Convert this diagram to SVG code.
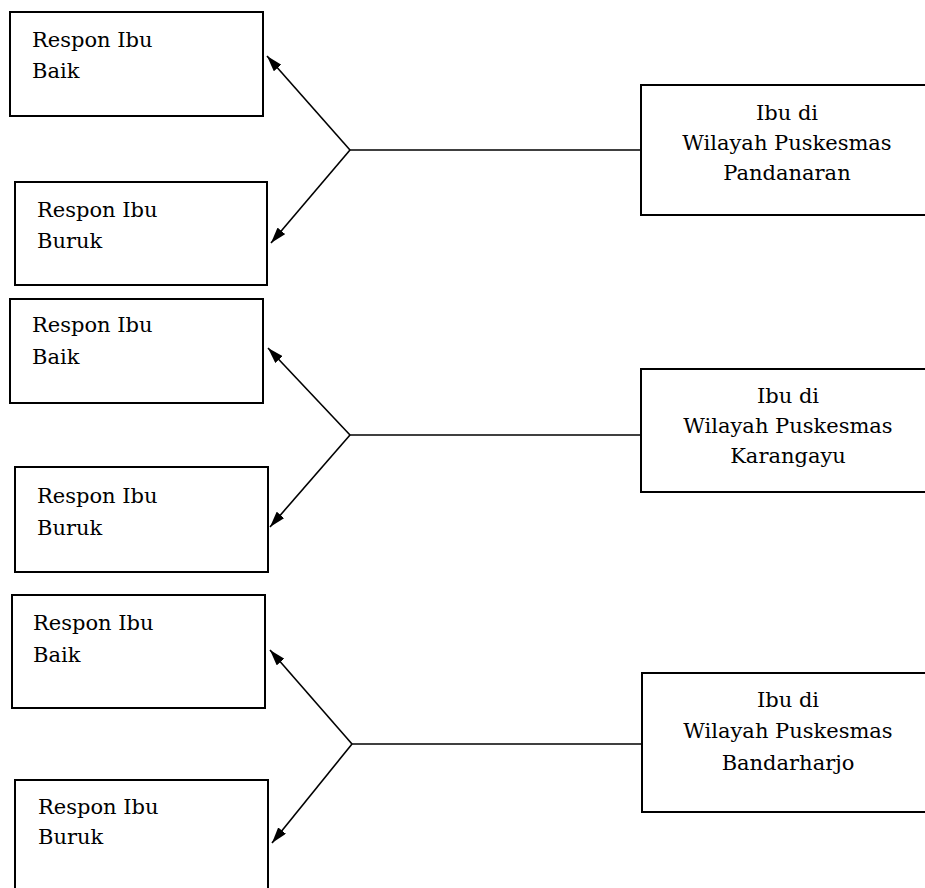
<svg xmlns="http://www.w3.org/2000/svg" width="925" height="888" viewBox="0 0 925 888">
<defs>
<marker id="ah" viewBox="0 0 16 10" refX="16" refY="5" markerWidth="16" markerHeight="10" markerUnits="userSpaceOnUse" orient="auto">
<path d="M0,0 L16,5 L0,10 z" fill="#000"/>
</marker>
</defs>
<style>
rect{fill:#fff;stroke:#000;stroke-width:2}
text{font-family:"DejaVu Serif","Liberation Serif",serif;font-size:21px;fill:#000}
.c{text-anchor:middle}
.ln{stroke:#000;stroke-width:1.6;fill:none}
</style>
<rect x="0" y="0" width="925" height="888" style="stroke:none"/>
<g id="L1"><rect x="10" y="12" width="253" height="104"/><text x="32" y="47">Respon Ibu</text><text x="32" y="78">Baik</text></g>
<g id="L2"><rect x="15" y="182" width="252" height="103"/><text x="37" y="217">Respon Ibu</text><text x="37" y="248">Buruk</text></g>
<g id="L3"><rect x="10" y="299" width="253" height="104"/><text x="32" y="332">Respon Ibu</text><text x="32" y="364">Baik</text></g>
<g id="L4"><rect x="15" y="467" width="253" height="105"/><text x="37" y="503">Respon Ibu</text><text x="37" y="535">Buruk</text></g>
<g id="L5"><rect x="12" y="595" width="253" height="113"/><text x="33" y="630">Respon Ibu</text><text x="33" y="662">Baik</text></g>
<g id="L6"><rect x="15" y="780" width="253" height="115"/><text x="38" y="814">Respon Ibu</text><text x="38" y="844">Buruk</text></g>
<g id="R1"><rect x="641" y="85" width="295" height="130"/><text class="c" x="787" y="120">Ibu di</text><text class="c" x="787" y="150">Wilayah Puskesmas</text><text class="c" x="787" y="180">Pandanaran</text></g>
<g id="R2"><rect x="641" y="369" width="295" height="123"/><text class="c" x="788" y="403">Ibu di</text><text class="c" x="788" y="433">Wilayah Puskesmas</text><text class="c" x="788" y="463">Karangayu</text></g>
<g id="R3"><rect x="642" y="673" width="295" height="139"/><text class="c" x="788" y="707">Ibu di</text><text class="c" x="788" y="738">Wilayah Puskesmas</text><text class="c" x="788" y="770">Bandarharjo</text></g>
<g id="connectors">
<line class="ln" x1="350" y1="150" x2="641" y2="150"/>
<line class="ln" x1="350" y1="150" x2="267" y2="56" marker-end="url(#ah)"/>
<line class="ln" x1="350" y1="150" x2="271" y2="243" marker-end="url(#ah)"/>
<line class="ln" x1="350" y1="435" x2="641" y2="435"/>
<line class="ln" x1="350" y1="435" x2="268" y2="348" marker-end="url(#ah)"/>
<line class="ln" x1="350" y1="435" x2="270" y2="527" marker-end="url(#ah)"/>
<line class="ln" x1="352" y1="744" x2="642" y2="744"/>
<line class="ln" x1="352" y1="744" x2="270" y2="650" marker-end="url(#ah)"/>
<line class="ln" x1="352" y1="744" x2="272" y2="843" marker-end="url(#ah)"/>
</g>
</svg>
